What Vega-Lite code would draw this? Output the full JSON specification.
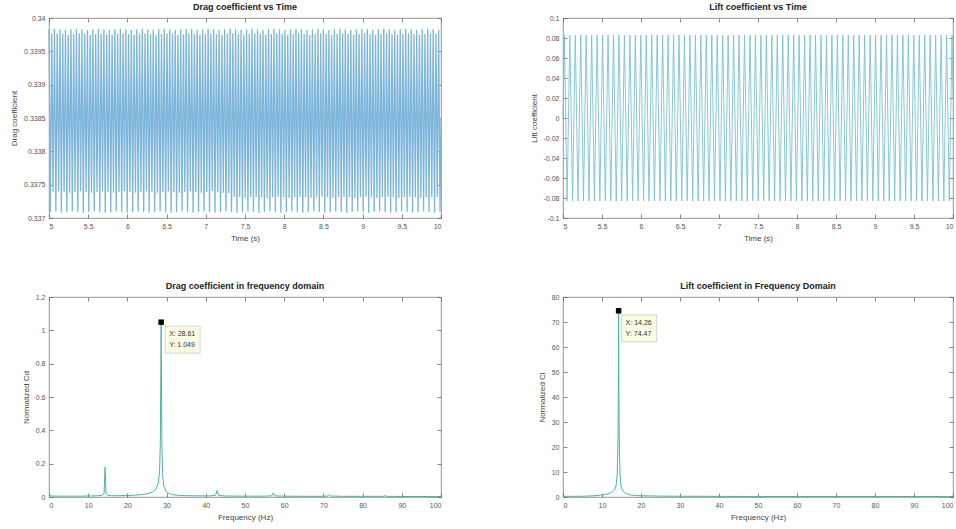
{
"$schema":"https://vega.github.io/schema/vega-lite/v6.json",
"background":"white",
"padding":{"left":10,"top":2,"right":0,"bottom":0},
"config":{
 "font":"Liberation Sans",
 "view":{"stroke":"#7a7a7a","strokeWidth":0.8},
 "axis":{"domain":false,"grid":false,"tickColor":"#6a6a6a","tickSize":-4,"tickWidth":0.8,"labelColor":"#555555","labelFontSize":7,"labelPadding":8,"titleColor":"#444444","titleFontSize":8,"titleFontWeight":"normal","titlePadding":5},
 "title":{"fontSize":9,"fontWeight":"bold","color":"#222222","offset":2,"frame":"group"}
},
"datasets":{
"ts":[
{"t":5,"cd":0.33983,"cl":0},{"t":5.0175,"cd":0.33709,"cl":0.083},{"t":5.035,"cd":0.33976,"cl":0},{"t":5.0525,"cd":0.33739,"cl":-0.083},
{"t":5.07,"cd":0.33984,"cl":0},{"t":5.0875,"cd":0.3371,"cl":0.083},{"t":5.105,"cd":0.33977,"cl":0},{"t":5.1225,"cd":0.3374,"cl":-0.083},
{"t":5.14,"cd":0.33983,"cl":0},{"t":5.1575,"cd":0.33708,"cl":0.083},{"t":5.175,"cd":0.33976,"cl":0},{"t":5.1925,"cd":0.33739,"cl":-0.083},
{"t":5.21,"cd":0.33982,"cl":0},{"t":5.2275,"cd":0.33709,"cl":0.083},{"t":5.245,"cd":0.33975,"cl":0},{"t":5.2625,"cd":0.33738,"cl":-0.083},
{"t":5.28,"cd":0.33983,"cl":0},{"t":5.2975,"cd":0.3371,"cl":0.083},{"t":5.315,"cd":0.33976,"cl":0},{"t":5.3325,"cd":0.33739,"cl":-0.083},
{"t":5.35,"cd":0.33984,"cl":0},{"t":5.3675,"cd":0.33709,"cl":0.083},{"t":5.385,"cd":0.33977,"cl":0},{"t":5.4025,"cd":0.3374,"cl":-0.083},
{"t":5.42,"cd":0.33983,"cl":0},{"t":5.4375,"cd":0.33708,"cl":0.083},{"t":5.455,"cd":0.33976,"cl":0},{"t":5.4725,"cd":0.33739,"cl":-0.083},
{"t":5.49,"cd":0.33982,"cl":0},{"t":5.5075,"cd":0.33709,"cl":0.083},{"t":5.525,"cd":0.33975,"cl":0},{"t":5.5425,"cd":0.33738,"cl":-0.083},
{"t":5.56,"cd":0.33983,"cl":0},{"t":5.5775,"cd":0.3371,"cl":0.083},{"t":5.595,"cd":0.33976,"cl":0},{"t":5.6125,"cd":0.33739,"cl":-0.083},
{"t":5.63,"cd":0.33984,"cl":0},{"t":5.6475,"cd":0.33709,"cl":0.083},{"t":5.665,"cd":0.33977,"cl":0},{"t":5.6825,"cd":0.3374,"cl":-0.083},
{"t":5.7,"cd":0.33983,"cl":0},{"t":5.7175,"cd":0.33708,"cl":0.083},{"t":5.735,"cd":0.33976,"cl":0},{"t":5.7525,"cd":0.33739,"cl":-0.083},
{"t":5.77,"cd":0.33982,"cl":0},{"t":5.7875,"cd":0.33709,"cl":0.083},{"t":5.805,"cd":0.33975,"cl":0},{"t":5.8225,"cd":0.33738,"cl":-0.083},
{"t":5.84,"cd":0.33983,"cl":0},{"t":5.8575,"cd":0.3371,"cl":0.083},{"t":5.875,"cd":0.33976,"cl":0},{"t":5.8925,"cd":0.33739,"cl":-0.083},
{"t":5.91,"cd":0.33984,"cl":0},{"t":5.9275,"cd":0.33709,"cl":0.083},{"t":5.945,"cd":0.33977,"cl":0},{"t":5.9625,"cd":0.3374,"cl":-0.083},
{"t":5.98,"cd":0.33983,"cl":0},{"t":5.9975,"cd":0.33708,"cl":0.083},{"t":6.015,"cd":0.33976,"cl":0},{"t":6.0325,"cd":0.33739,"cl":-0.083},
{"t":6.05,"cd":0.33982,"cl":0},{"t":6.0675,"cd":0.33709,"cl":0.083},{"t":6.085,"cd":0.33975,"cl":0},{"t":6.1025,"cd":0.33738,"cl":-0.083},
{"t":6.12,"cd":0.33983,"cl":0},{"t":6.1375,"cd":0.3371,"cl":0.083},{"t":6.155,"cd":0.33976,"cl":0},{"t":6.1725,"cd":0.33739,"cl":-0.083},
{"t":6.19,"cd":0.33984,"cl":0},{"t":6.2075,"cd":0.33709,"cl":0.083},{"t":6.225,"cd":0.33977,"cl":0},{"t":6.2425,"cd":0.3374,"cl":-0.083},
{"t":6.26,"cd":0.33983,"cl":0},{"t":6.2775,"cd":0.33708,"cl":0.083},{"t":6.295,"cd":0.33976,"cl":0},{"t":6.3125,"cd":0.33739,"cl":-0.083},
{"t":6.33,"cd":0.33982,"cl":0},{"t":6.3475,"cd":0.33709,"cl":0.083},{"t":6.365,"cd":0.33975,"cl":0},{"t":6.3825,"cd":0.33738,"cl":-0.083},
{"t":6.4,"cd":0.33983,"cl":0},{"t":6.4175,"cd":0.3371,"cl":0.083},{"t":6.435,"cd":0.33976,"cl":0},{"t":6.4525,"cd":0.33739,"cl":-0.083},
{"t":6.47,"cd":0.33984,"cl":0},{"t":6.4875,"cd":0.33709,"cl":0.083},{"t":6.505,"cd":0.33977,"cl":0},{"t":6.5225,"cd":0.3374,"cl":-0.083},
{"t":6.54,"cd":0.33983,"cl":0},{"t":6.5575,"cd":0.33708,"cl":0.083},{"t":6.575,"cd":0.33976,"cl":0},{"t":6.5925,"cd":0.33739,"cl":-0.083},
{"t":6.61,"cd":0.33982,"cl":0},{"t":6.6275,"cd":0.33709,"cl":0.083},{"t":6.645,"cd":0.33975,"cl":0},{"t":6.6625,"cd":0.33738,"cl":-0.083},
{"t":6.68,"cd":0.33983,"cl":0},{"t":6.6975,"cd":0.3371,"cl":0.083},{"t":6.715,"cd":0.33976,"cl":0},{"t":6.7325,"cd":0.33739,"cl":-0.083},
{"t":6.75,"cd":0.33984,"cl":0},{"t":6.7675,"cd":0.33709,"cl":0.083},{"t":6.785,"cd":0.33977,"cl":0},{"t":6.8025,"cd":0.3374,"cl":-0.083},
{"t":6.82,"cd":0.33983,"cl":0},{"t":6.8375,"cd":0.33708,"cl":0.083},{"t":6.855,"cd":0.33976,"cl":0},{"t":6.8725,"cd":0.33739,"cl":-0.083},
{"t":6.89,"cd":0.33982,"cl":0},{"t":6.9075,"cd":0.33709,"cl":0.083},{"t":6.925,"cd":0.33975,"cl":0},{"t":6.9425,"cd":0.33738,"cl":-0.083},
{"t":6.96,"cd":0.33983,"cl":0},{"t":6.9775,"cd":0.3371,"cl":0.083},{"t":6.995,"cd":0.33976,"cl":0},{"t":7.0125,"cd":0.33739,"cl":-0.083},
{"t":7.03,"cd":0.33984,"cl":0},{"t":7.0475,"cd":0.33709,"cl":0.083},{"t":7.065,"cd":0.33977,"cl":0},{"t":7.0825,"cd":0.3374,"cl":-0.083},
{"t":7.1,"cd":0.33983,"cl":0},{"t":7.1175,"cd":0.33708,"cl":0.083},{"t":7.135,"cd":0.33976,"cl":0},{"t":7.1525,"cd":0.33739,"cl":-0.083},
{"t":7.17,"cd":0.33982,"cl":0},{"t":7.1875,"cd":0.33709,"cl":0.083},{"t":7.205,"cd":0.33975,"cl":0},{"t":7.2225,"cd":0.33738,"cl":-0.083},
{"t":7.24,"cd":0.33983,"cl":0},{"t":7.2575,"cd":0.3371,"cl":0.083},{"t":7.275,"cd":0.33976,"cl":0},{"t":7.2925,"cd":0.33737,"cl":-0.083},
{"t":7.31,"cd":0.33984,"cl":0},{"t":7.3275,"cd":0.33709,"cl":0.083},{"t":7.345,"cd":0.33977,"cl":0},{"t":7.3625,"cd":0.33732,"cl":-0.083},
{"t":7.38,"cd":0.33983,"cl":0},{"t":7.3975,"cd":0.33708,"cl":0.083},{"t":7.415,"cd":0.33976,"cl":0},{"t":7.4325,"cd":0.33731,"cl":-0.083},
{"t":7.45,"cd":0.33982,"cl":0},{"t":7.4675,"cd":0.33709,"cl":0.083},{"t":7.485,"cd":0.33975,"cl":0},{"t":7.5025,"cd":0.3373,"cl":-0.083},
{"t":7.52,"cd":0.33983,"cl":0},{"t":7.5375,"cd":0.3371,"cl":0.083},{"t":7.555,"cd":0.33976,"cl":0},{"t":7.5725,"cd":0.33731,"cl":-0.083},
{"t":7.59,"cd":0.33984,"cl":0},{"t":7.6075,"cd":0.33709,"cl":0.083},{"t":7.625,"cd":0.33977,"cl":0},{"t":7.6425,"cd":0.33732,"cl":-0.083},
{"t":7.66,"cd":0.33983,"cl":0},{"t":7.6775,"cd":0.33708,"cl":0.083},{"t":7.695,"cd":0.33976,"cl":0},{"t":7.7125,"cd":0.33731,"cl":-0.083},
{"t":7.73,"cd":0.33982,"cl":0},{"t":7.7475,"cd":0.33709,"cl":0.083},{"t":7.765,"cd":0.33975,"cl":0},{"t":7.7825,"cd":0.3373,"cl":-0.083},
{"t":7.8,"cd":0.33983,"cl":0},{"t":7.8175,"cd":0.3371,"cl":0.083},{"t":7.835,"cd":0.33976,"cl":0},{"t":7.8525,"cd":0.33731,"cl":-0.083},
{"t":7.87,"cd":0.33984,"cl":0},{"t":7.8875,"cd":0.33709,"cl":0.083},{"t":7.905,"cd":0.33977,"cl":0},{"t":7.9225,"cd":0.33732,"cl":-0.083},
{"t":7.94,"cd":0.33983,"cl":0},{"t":7.9575,"cd":0.33708,"cl":0.083},{"t":7.975,"cd":0.33976,"cl":0},{"t":7.9925,"cd":0.33731,"cl":-0.083},
{"t":8.01,"cd":0.33982,"cl":0},{"t":8.0275,"cd":0.33709,"cl":0.083},{"t":8.045,"cd":0.33975,"cl":0},{"t":8.0625,"cd":0.3373,"cl":-0.083},
{"t":8.08,"cd":0.33983,"cl":0},{"t":8.0975,"cd":0.3371,"cl":0.083},{"t":8.115,"cd":0.33976,"cl":0},{"t":8.1325,"cd":0.33731,"cl":-0.083},
{"t":8.15,"cd":0.33984,"cl":0},{"t":8.1675,"cd":0.33709,"cl":0.083},{"t":8.185,"cd":0.33977,"cl":0},{"t":8.2025,"cd":0.33732,"cl":-0.083},
{"t":8.22,"cd":0.33983,"cl":0},{"t":8.2375,"cd":0.33708,"cl":0.083},{"t":8.255,"cd":0.33976,"cl":0},{"t":8.2725,"cd":0.33731,"cl":-0.083},
{"t":8.29,"cd":0.33982,"cl":0},{"t":8.3075,"cd":0.33709,"cl":0.083},{"t":8.325,"cd":0.33975,"cl":0},{"t":8.3425,"cd":0.3373,"cl":-0.083},
{"t":8.36,"cd":0.33983,"cl":0},{"t":8.3775,"cd":0.3371,"cl":0.083},{"t":8.395,"cd":0.33976,"cl":0},{"t":8.4125,"cd":0.33731,"cl":-0.083},
{"t":8.43,"cd":0.33984,"cl":0},{"t":8.4475,"cd":0.33709,"cl":0.083},{"t":8.465,"cd":0.33977,"cl":0},{"t":8.4825,"cd":0.33732,"cl":-0.083},
{"t":8.5,"cd":0.33983,"cl":0},{"t":8.5175,"cd":0.33708,"cl":0.083},{"t":8.535,"cd":0.33976,"cl":0},{"t":8.5525,"cd":0.33731,"cl":-0.083},
{"t":8.57,"cd":0.33982,"cl":0},{"t":8.5875,"cd":0.33709,"cl":0.083},{"t":8.605,"cd":0.33975,"cl":0},{"t":8.6225,"cd":0.3373,"cl":-0.083},
{"t":8.64,"cd":0.33983,"cl":0},{"t":8.6575,"cd":0.3371,"cl":0.083},{"t":8.675,"cd":0.33976,"cl":0},{"t":8.6925,"cd":0.33731,"cl":-0.083},
{"t":8.71,"cd":0.33984,"cl":0},{"t":8.7275,"cd":0.33709,"cl":0.083},{"t":8.745,"cd":0.33977,"cl":0},{"t":8.7625,"cd":0.33732,"cl":-0.083},
{"t":8.78,"cd":0.33983,"cl":0},{"t":8.7975,"cd":0.33708,"cl":0.083},{"t":8.815,"cd":0.33976,"cl":0},{"t":8.8325,"cd":0.33731,"cl":-0.083},
{"t":8.85,"cd":0.33982,"cl":0},{"t":8.8675,"cd":0.33709,"cl":0.083},{"t":8.885,"cd":0.33975,"cl":0},{"t":8.9025,"cd":0.3373,"cl":-0.083},
{"t":8.92,"cd":0.33983,"cl":0},{"t":8.9375,"cd":0.3371,"cl":0.083},{"t":8.955,"cd":0.33976,"cl":0},{"t":8.9725,"cd":0.33731,"cl":-0.083},
{"t":8.99,"cd":0.33984,"cl":0},{"t":9.0075,"cd":0.33709,"cl":0.083},{"t":9.025,"cd":0.33977,"cl":0},{"t":9.0425,"cd":0.33732,"cl":-0.083},
{"t":9.06,"cd":0.33983,"cl":0},{"t":9.0775,"cd":0.33708,"cl":0.083},{"t":9.095,"cd":0.33976,"cl":0},{"t":9.1125,"cd":0.33731,"cl":-0.083},
{"t":9.13,"cd":0.33982,"cl":0},{"t":9.1475,"cd":0.33709,"cl":0.083},{"t":9.165,"cd":0.33975,"cl":0},{"t":9.1825,"cd":0.3373,"cl":-0.083},
{"t":9.2,"cd":0.33983,"cl":0},{"t":9.2175,"cd":0.3371,"cl":0.083},{"t":9.235,"cd":0.33976,"cl":0},{"t":9.2525,"cd":0.33731,"cl":-0.083},
{"t":9.27,"cd":0.33984,"cl":0},{"t":9.2875,"cd":0.33709,"cl":0.083},{"t":9.305,"cd":0.33977,"cl":0},{"t":9.3225,"cd":0.33732,"cl":-0.083},
{"t":9.34,"cd":0.33983,"cl":0},{"t":9.3575,"cd":0.33708,"cl":0.083},{"t":9.375,"cd":0.33976,"cl":0},{"t":9.3925,"cd":0.33731,"cl":-0.083},
{"t":9.41,"cd":0.33982,"cl":0},{"t":9.4275,"cd":0.33709,"cl":0.083},{"t":9.445,"cd":0.33975,"cl":0},{"t":9.4625,"cd":0.3373,"cl":-0.083},
{"t":9.48,"cd":0.33983,"cl":0},{"t":9.4975,"cd":0.3371,"cl":0.083},{"t":9.515,"cd":0.33976,"cl":0},{"t":9.5325,"cd":0.33731,"cl":-0.083},
{"t":9.55,"cd":0.33984,"cl":0},{"t":9.5675,"cd":0.33709,"cl":0.083},{"t":9.585,"cd":0.33977,"cl":0},{"t":9.6025,"cd":0.33732,"cl":-0.083},
{"t":9.62,"cd":0.33983,"cl":0},{"t":9.6375,"cd":0.33708,"cl":0.083},{"t":9.655,"cd":0.33976,"cl":0},{"t":9.6725,"cd":0.33731,"cl":-0.083},
{"t":9.69,"cd":0.33982,"cl":0},{"t":9.7075,"cd":0.33709,"cl":0.083},{"t":9.725,"cd":0.33975,"cl":0},{"t":9.7425,"cd":0.3373,"cl":-0.083},
{"t":9.76,"cd":0.33983,"cl":0},{"t":9.7775,"cd":0.3371,"cl":0.083},{"t":9.795,"cd":0.33976,"cl":0},{"t":9.8125,"cd":0.33731,"cl":-0.083},
{"t":9.83,"cd":0.33984,"cl":0},{"t":9.8475,"cd":0.33709,"cl":0.083},{"t":9.865,"cd":0.33977,"cl":0},{"t":9.8825,"cd":0.33732,"cl":-0.083},
{"t":9.9,"cd":0.33983,"cl":0},{"t":9.9175,"cd":0.33708,"cl":0.083},{"t":9.935,"cd":0.33976,"cl":0},{"t":9.9525,"cd":0.33731,"cl":-0.083},
{"t":9.97,"cd":0.33982,"cl":0},{"t":9.9875,"cd":0.33709,"cl":0.083},{"t":10,"cd":0.3385,"cl":0.02}
],
"cdf":[
{"f":0,"v":0.008},{"f":1,"v":0.006},{"f":2,"v":0.005},{"f":4,"v":0.005},{"f":6,"v":0.005},{"f":8,"v":0.005},{"f":10,"v":0.006},{"f":12,"v":0.007},{"f":13.5,"v":0.01},{"f":14.05,"v":0.02},{"f":14.3,"v":0.178},{"f":14.55,"v":0.02},{"f":15,"v":0.01},{"f":16,"v":0.008},{"f":18,"v":0.008},{"f":20,"v":0.009},{"f":22,"v":0.011},{"f":24,"v":0.015},{"f":25.5,"v":0.022},{"f":26.5,"v":0.032},{"f":27.3,"v":0.048},{"f":27.9,"v":0.085},{"f":28.2,"v":0.15},{"f":28.4,"v":0.32},{"f":28.61,"v":1.049},{"f":28.8,"v":0.3},{"f":29,"v":0.13},{"f":29.3,"v":0.065},{"f":29.8,"v":0.036},{"f":30.5,"v":0.022},{"f":31.5,"v":0.014},{"f":33,"v":0.01},{"f":35,"v":0.008},{"f":38,"v":0.007},{"f":41,"v":0.007},{"f":42.5,"v":0.01},{"f":42.9,"v":0.04},{"f":43.3,"v":0.01},{"f":45,"v":0.006},{"f":50,"v":0.005},{"f":55,"v":0.005},{"f":56.8,"v":0.007},{"f":57.2,"v":0.025},{"f":57.6,"v":0.007},{"f":60,"v":0.005},{"f":65,"v":0.004},{"f":70,"v":0.004},{"f":71.1,"v":0.006},{"f":71.5,"v":0.015},{"f":71.9,"v":0.006},{"f":75,"v":0.004},{"f":80,"v":0.004},{"f":85.4,"v":0.004},{"f":85.8,"v":0.008},{"f":86.2,"v":0.004},{"f":90,"v":0.003},{"f":95,"v":0.003},{"f":100,"v":0.003}
],
"clf":[
{"f":0,"v":0.3},{"f":2,"v":0.25},{"f":5,"v":0.3},{"f":8,"v":0.5},{"f":10,"v":0.8},{"f":11.5,"v":1.2},{"f":12.5,"v":1.8},{"f":13.2,"v":2.8},{"f":13.6,"v":4.5},{"f":13.9,"v":9},{"f":14.1,"v":22},{"f":14.2,"v":45},{"f":14.26,"v":74.47},{"f":14.33,"v":45},{"f":14.45,"v":20},{"f":14.65,"v":8},{"f":14.9,"v":4.2},{"f":15.3,"v":2.5},{"f":16,"v":1.5},{"f":17,"v":0.9},{"f":18.5,"v":0.6},{"f":20,"v":0.5},{"f":25,"v":0.35},{"f":30,"v":0.3},{"f":40,"v":0.25},{"f":50,"v":0.2},{"f":60,"v":0.2},{"f":70,"v":0.2},{"f":80,"v":0.2},{"f":90,"v":0.2},{"f":100,"v":0.2}
],
"tipd":[{"f":28.61,"v":1.049,"a":"X: 28.61","b":"Y: 1.049"}],
"tipl":[{"f":14.26,"v":74.47,"a":"X: 14.26","b":"Y: 74.47"}]
},
"columns":2,
"spacing":{"row":79,"column":122},
"bounds":"flush",
"concat":[
{
 "width":392,"height":200,
 "title":"Drag coefficient vs Time",
 "data":{"name":"ts"},
 "layer":[
  {"mark":{"type":"line","color":"#7db5db","strokeWidth":1.3},
   "encoding":{
    "x":{"field":"t","type":"quantitative","scale":{"domain":[5,10],"nice":false,"zero":false},"axis":{"values":[5,5.5,6,6.5,7,7.5,8,8.5,9,9.5,10],"format":"~g","title":"Time (s)"}},
    "y":{"field":"cd","type":"quantitative","scale":{"domain":[0.337,0.34],"nice":false,"zero":false},"axis":{"values":[0.337,0.3375,0.338,0.3385,0.339,0.3395,0.34],"format":"~g","title":"Drag coefficient"}}}},
  {"mark":{"type":"line","opacity":0},
   "encoding":{
    "x":{"field":"t","type":"quantitative","axis":{"orient":"top","values":[5,5.5,6,6.5,7,7.5,8,8.5,9,9.5,10],"labels":false,"title":null}},
    "y":{"field":"cd","type":"quantitative","axis":{"orient":"right","values":[0.337,0.3375,0.338,0.3385,0.339,0.3395,0.34],"labels":false,"title":null}}}}
 ],
 "resolve":{"axis":{"x":"independent","y":"independent"}}
},
{
 "width":390,"height":200,
 "title":"Lift coefficient vs Time",
 "data":{"name":"ts"},
 "layer":[
  {"mark":{"type":"line","color":"#79c2d2","strokeWidth":0.9},
   "encoding":{
    "x":{"field":"t","type":"quantitative","scale":{"domain":[5,10],"nice":false,"zero":false},"axis":{"values":[5,5.5,6,6.5,7,7.5,8,8.5,9,9.5,10],"format":"~g","title":"Time (s)"}},
    "y":{"field":"cl","type":"quantitative","scale":{"domain":[-0.1,0.1],"nice":false,"zero":false},"axis":{"values":[-0.1,-0.08,-0.06,-0.04,-0.02,0,0.02,0.04,0.06,0.08,0.1],"labelExpr":"replace(format(datum.value,'~g'),'\u2212','-')","title":"Lift coefficient"}}}},
  {"mark":{"type":"line","opacity":0},
   "encoding":{
    "x":{"field":"t","type":"quantitative","axis":{"orient":"top","values":[5,5.5,6,6.5,7,7.5,8,8.5,9,9.5,10],"labels":false,"title":null}},
    "y":{"field":"cl","type":"quantitative","axis":{"orient":"right","values":[-0.1,-0.08,-0.06,-0.04,-0.02,0,0.02,0.04,0.06,0.08,0.1],"labels":false,"title":null}}}}
 ],
 "resolve":{"axis":{"x":"independent","y":"independent"}}
},
{
 "width":392,"height":200,
 "title":"Drag coefficient in frequency domain",
 "layer":[
  {"data":{"name":"cdf"},"mark":{"type":"line","color":"#4fb3a3","strokeWidth":1},
   "encoding":{
    "x":{"field":"f","type":"quantitative","scale":{"domain":[0,100],"nice":false,"zero":false},"axis":{"values":[0,10,20,30,40,50,60,70,80,90,100],"title":"Frequency (Hz)"}},
    "y":{"field":"v","type":"quantitative","scale":{"domain":[0,1.2],"nice":false,"zero":false},"axis":{"values":[0,0.2,0.4,0.6,0.8,1,1.2],"format":"~g","title":"Normalized Cd"}}}},
  {"data":{"name":"tipd"},"mark":{"type":"point","shape":"M0.4,0.4H3.9V3.1H0.4Z","size":400,"filled":true,"fill":"#fbfbe6","stroke":"#b0b0a0","strokeWidth":0.5,"opacity":1},
   "encoding":{"x":{"field":"f","type":"quantitative","axis":null},"y":{"field":"v","type":"quantitative","axis":null}}},
  {"data":{"name":"tipd"},"mark":{"type":"point","shape":"square","size":30,"filled":true,"color":"#000000","opacity":1},
   "encoding":{"x":{"field":"f","type":"quantitative","axis":null},"y":{"field":"v","type":"quantitative","axis":null}}},
  {"data":{"name":"tipd"},"mark":{"type":"text","align":"left","baseline":"middle","dx":8,"dy":12,"fontSize":7,"color":"#333333"},
   "encoding":{"x":{"field":"f","type":"quantitative","axis":null},"y":{"field":"v","type":"quantitative","axis":null},"text":{"field":"a"}}},
  {"data":{"name":"tipd"},"mark":{"type":"text","align":"left","baseline":"middle","dx":8,"dy":23,"fontSize":7,"color":"#333333"},
   "encoding":{"x":{"field":"f","type":"quantitative","axis":null},"y":{"field":"v","type":"quantitative","axis":null},"text":{"field":"b"}}},
  {"data":{"name":"cdf"},"mark":{"type":"line","opacity":0},
   "encoding":{
    "x":{"field":"f","type":"quantitative","axis":{"orient":"top","values":[0,10,20,30,40,50,60,70,80,90,100],"labels":false,"title":null}},
    "y":{"field":"v","type":"quantitative","axis":{"orient":"right","values":[0,0.2,0.4,0.6,0.8,1,1.2],"labels":false,"title":null}}}}
 ],
 "resolve":{"axis":{"x":"independent","y":"independent"}}
},
{
 "width":390,"height":200,
 "title":"Lift coefficient in Frequency Domain",
 "layer":[
  {"data":{"name":"clf"},"mark":{"type":"line","color":"#4fb3a3","strokeWidth":1},
   "encoding":{
    "x":{"field":"f","type":"quantitative","scale":{"domain":[0,100],"nice":false,"zero":false},"axis":{"values":[0,10,20,30,40,50,60,70,80,90,100],"title":"Frequency (Hz)"}},
    "y":{"field":"v","type":"quantitative","scale":{"domain":[0,80],"nice":false,"zero":false},"axis":{"values":[0,10,20,30,40,50,60,70,80],"title":"Normalized Cl"}}}},
  {"data":{"name":"tipl"},"mark":{"type":"point","shape":"M0.3,0.4H3.8V3.1H0.3Z","size":400,"filled":true,"fill":"#fbfbe6","stroke":"#b0b0a0","strokeWidth":0.5,"opacity":1},
   "encoding":{"x":{"field":"f","type":"quantitative","axis":null},"y":{"field":"v","type":"quantitative","axis":null}}},
  {"data":{"name":"tipl"},"mark":{"type":"point","shape":"square","size":30,"filled":true,"color":"#000000","opacity":1},
   "encoding":{"x":{"field":"f","type":"quantitative","axis":null},"y":{"field":"v","type":"quantitative","axis":null}}},
  {"data":{"name":"tipl"},"mark":{"type":"text","align":"left","baseline":"middle","dx":7,"dy":12,"fontSize":7,"color":"#333333"},
   "encoding":{"x":{"field":"f","type":"quantitative","axis":null},"y":{"field":"v","type":"quantitative","axis":null},"text":{"field":"a"}}},
  {"data":{"name":"tipl"},"mark":{"type":"text","align":"left","baseline":"middle","dx":7,"dy":23,"fontSize":7,"color":"#333333"},
   "encoding":{"x":{"field":"f","type":"quantitative","axis":null},"y":{"field":"v","type":"quantitative","axis":null},"text":{"field":"b"}}},
  {"data":{"name":"clf"},"mark":{"type":"line","opacity":0},
   "encoding":{
    "x":{"field":"f","type":"quantitative","axis":{"orient":"top","values":[0,10,20,30,40,50,60,70,80,90,100],"labels":false,"title":null}},
    "y":{"field":"v","type":"quantitative","axis":{"orient":"right","values":[0,10,20,30,40,50,60,70,80],"labels":false,"title":null}}}}
 ],
 "resolve":{"axis":{"x":"independent","y":"independent"}}
}
]
}
